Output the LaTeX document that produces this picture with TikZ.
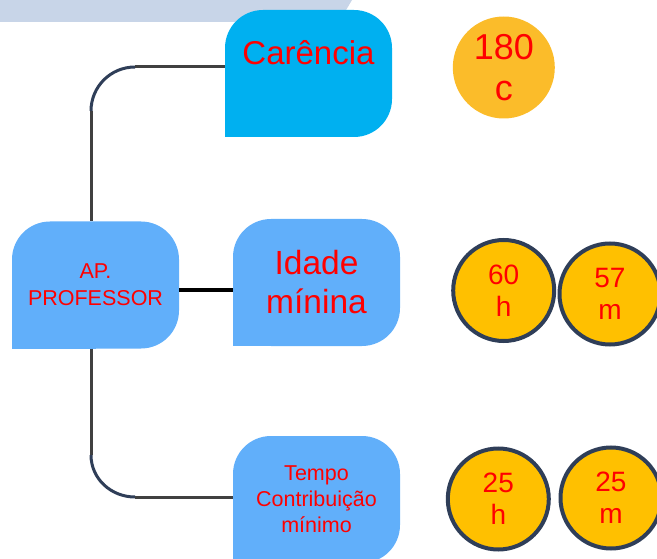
\documentclass[tikz,border=0pt]{standalone}
\usepackage{fontspec}
\setmainfont{Liberation Sans}
\definecolor{cband}{RGB}{200,213,232}
\definecolor{ccyan}{RGB}{0,176,240}
\definecolor{cblue}{RGB}{97,175,250}
\definecolor{cgold}{RGB}{255,192,0}
\definecolor{camber}{RGB}{251,188,42}
\definecolor{cnavy}{RGB}{47,62,88}
\definecolor{cgrey}{RGB}{64,64,64}
\definecolor{cred}{RGB}{255,0,0}

\tikzset{
  box/.style={minimum width=167pt,minimum height=127pt,inner sep=0pt,outer sep=0pt,align=center,text=cred,
    path picture={
      \fill[#1,rounded corners=38pt] (path picture bounding box.south west) rectangle (path picture bounding box.north east);
      \fill[#1] (path picture bounding box.south west) rectangle (path picture bounding box.center);}},
  dot/.style={circle,minimum size=101pt,inner sep=0pt,fill=cgold,draw=cnavy,line width=4pt,text=cred,align=center,
    font=\fontsize{28}{32}\selectfont},
  link/.style={draw=cgrey,line width=3pt},
  curveline/.style={draw=cnavy,line width=3pt}
}

\begin{document}
\begin{tikzpicture}[x=1pt,y=-1pt]
\useasboundingbox (0,0) rectangle (657,559);

% band at the top
\fill[cband] (0,0) -- (352,0) -- (339,22) -- (0,22) -- cycle;

\node[box=ccyan,font=\fontsize{33}{38}\selectfont] (car) at (308.5,73.5) {\raisebox{8.5pt}[0pt][0pt]{Carência}};
\node[box=cblue,font=\fontsize{21.5}{26.7}\selectfont] (ap) at (95.5,285) {AP.\\PROFESSOR};
\node[box=cblue,font=\fontsize{33.5}{39}\selectfont] (ida) at (316.5,282.5) {Idade\\mínina};
\node[box=cblue,font=\fontsize{21.5}{26}\selectfont] (tmp) at (316.5,499.5) {Tempo\\Contribuição\\mínimo};

\node[circle,minimum size=102pt,inner sep=0pt,fill=camber,text=cred,align=center,font=\fontsize{36}{41}\selectfont]
  (car180) at (503.8,67.5) {180\\c};
\foreach \nm/\x/\y/\nmb/\ltr in {
  hid/503.7/290.5/60/h,
  mid/610/294/57/m,
  hct/498.3/499/25/h,
  mct/611/498/25/m
}{
  \node[dot] (\nm) at (\x,\y) {\nmb\\\ltr};
}

% connectors
\coordinate (a1) at (135,67);
\coordinate (a2) at (91,111);
\coordinate (b1) at (91,455);
\coordinate (b2) at (135,497);
\draw[link] ([yshift=6.5pt]car.west) -- (a1);
\draw[curveline] (a1) to[out=180,in=90] (a2);
\draw[link] (a2) -- (a2 |- ap.north);
\draw[line width=4pt] ([yshift=-5pt]ap.east) -- ([yshift=-5pt]ap.east -| ida.west);
\draw[link] (b1 |- ap.south) -- (b1);
\draw[curveline] (b1) to[out=-90,in=180] (b2);
\draw[link] (b2) -- (b2 -| tmp.west);
\end{tikzpicture}
\end{document}
